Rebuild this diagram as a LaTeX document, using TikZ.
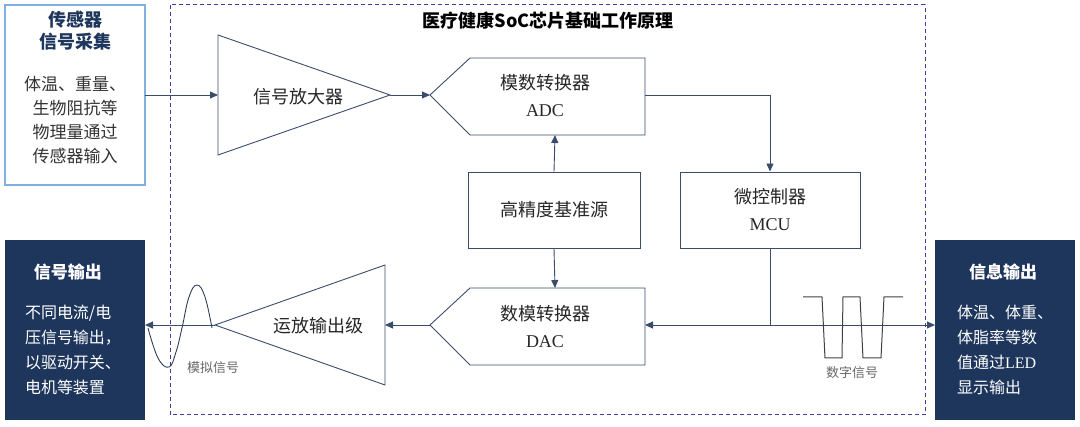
\documentclass[tikz,border=0pt]{standalone}
\usepackage{fontspec}
\setmainfont{Liberation Serif}
\newfontfamily\cjk{Noto Sans CJK SC}
\usetikzlibrary{arrows.meta}
\definecolor{ln}{HTML}{3B4C6B}
\definecolor{navy}{HTML}{1E365C}
\definecolor{dashc}{HTML}{3A3FA0}
\definecolor{lblue}{HTML}{7FB0E0}
\begin{document}
\begin{tikzpicture}[x=1pt,y=-1pt,
  shp/.style={draw=ln,line width=0.9pt},
  arr/.style={draw=ln,line width=0.9pt,-{Triangle[length=8pt,width=7pt]}},
  t/.style={font=\cjk\fontsize{18}{27}\selectfont,text=black!85,align=center},
  w/.style={font=\cjk\fontsize{16}{25}\selectfont,text=white,align=center},
  sm/.style={font=\cjk\fontsize{13}{14}\selectfont,text=black!60}]
\useasboundingbox (0,0) rectangle (1080,427);
\draw[dashc,line width=1pt,dash pattern=on 4pt off 3pt] (170,5) rectangle (925,415);
\node[font=\cjk\bfseries\fontsize{18}{20}\selectfont] (title) at (548,21) {医疗健康SoC芯片基础工作原理};
% sensor box
\draw[lblue,line width=1.4pt] (5,5) rectangle (145,185);
\node[t,font=\cjk\bfseries\fontsize{18}{22}\selectfont,text=navy] (s1) at (75,31) {传感器\\信号采集};
\node[t,font=\cjk\fontsize{17}{24}\selectfont,text=black!80] (s2) at (75,120) {体温、重量、\\生物阻抗等\\物理量通过\\传感器输入};
\coordinate (sr) at (145,95);
% amplifier
\draw[shp] (218,35) -- (390,95) -- (218,155) -- cycle;
\coordinate (ampin) at (218,95); \coordinate (ampout) at (390,95);
\node[t] (amp) at (298,97) {信号放大器};
% ADC
\draw[shp] (430,95) -- (470,58) -- (645,58) -- (645,135) -- (470,135) -- cycle;
\coordinate (adcin) at (430,95); \coordinate (adcout) at (645,95); \coordinate (adcb) at (555,135);
\node[t,align=center] (adc) at (545,96) {模数转换器\\{\rmfamily ADC}};
% ref
\node[shp,minimum width=172pt,minimum height=76pt,t] (ref) at (554,210) {高精度基准源};
% MCU
\node[shp,minimum width=180pt,minimum height=76pt,t] (mcu) at (770,210) {微控制器\\{\rmfamily MCU}};
% DAC
\draw[shp] (430,325) -- (470,288) -- (645,288) -- (645,365) -- (470,365) -- cycle;
\coordinate (dacin) at (645,325); \coordinate (dacout) at (430,325); \coordinate (dact) at (555,288);
\node[t] (dac) at (545,327) {数模转换器\\{\rmfamily DAC}};
% opamp
\draw[shp] (385,265) -- (385,385) -- (215,325) -- cycle;
\coordinate (opin) at (385,325); \coordinate (opout) at (215,325);
\node[t] (op) at (318,326) {运放输出级};
% output boxes
\fill[navy] (5,240) rectangle (145,420);
\node[w,font=\cjk\bfseries\fontsize{17}{20}\selectfont] (o1) at (68,272) {信号输出};
\node[w,align=left] (o2) at (73,350) {不同电流/电\\压信号输出，\\以驱动开关、\\电机等装置};
\coordinate (ol) at (145,325);
\fill[navy] (935,240) rectangle (1075,420);
\node[w,font=\cjk\bfseries\fontsize{17}{20}\selectfont] (i1) at (1003,272) {信息输出};
\node[w,align=left] (i2) at (1005,350) {体温、体重、\\体脂率等数\\值通过{\rmfamily LED}\\显示输出};
\coordinate (il) at (935,325);
% connectors
\draw[arr] (sr) -- (ampin);
\draw[arr] (ampout) -- (adcin);
\draw[arr] (adcout) -| (mcu.north);
\draw[arr] (ref.north) -- (adcb);
\draw[arr] (ref.south) -- (dact);
\coordinate (j) at (770,325);
\draw[shp] (mcu.south) -- (j);
\draw[arr] (j) -- (dacin);
\draw[arr] (j) -- (il);
\draw[arr] (dacout) -- (opin);
\draw[arr] (opout) -- (ol);
% waves
\draw[ln!80!black,line width=0.9pt] plot[smooth,tension=0.7] coordinates {(148,328) (158,358) (169,367) (176,352) (182,328) (189,297) (197,285) (205,297) (212,328)};
\draw[black!75,line width=1pt] (803,297) -- (822,297) -- (825,358) -- (842,358) -- (843,297) -- (860,297) -- (863,358) -- (881,358) -- (884,297) -- (903,297);
\node[sm] (al) at (213,368) {模拟信号};
\node[sm] (dl) at (852,373) {数字信号};
\end{tikzpicture}
\end{document}
